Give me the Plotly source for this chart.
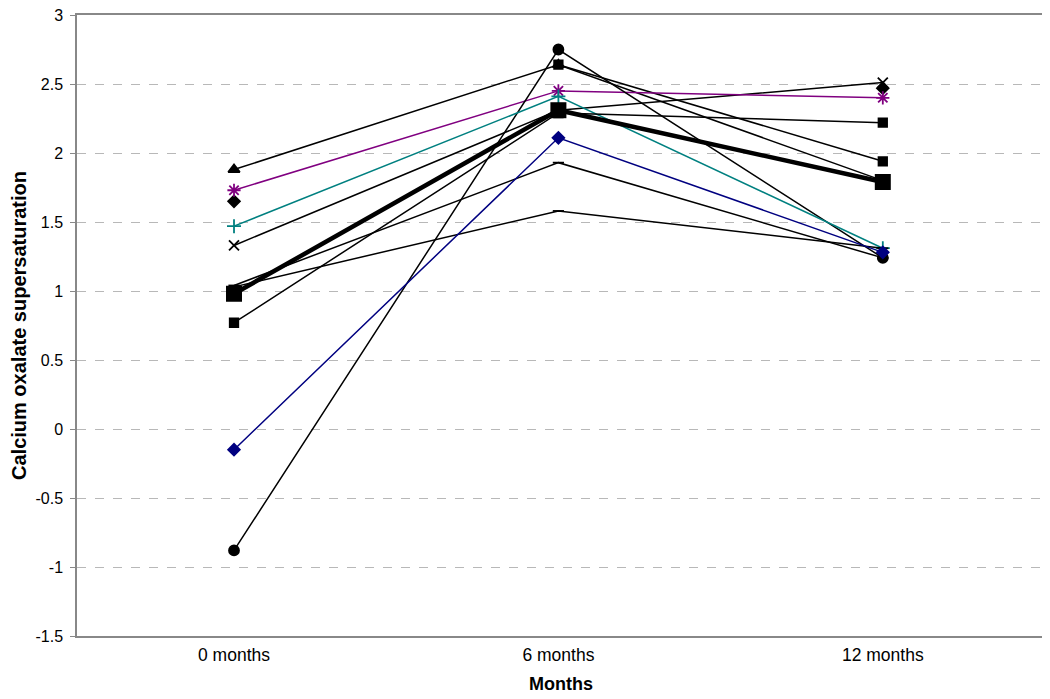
import plotly.graph_objects as go

categories = ["0 months", "6 months", "12 months"]
x_pos = [0, 1, 2]

diamond_black = [1.65, None, 2.47]
square_a = [None, 2.64, 1.94]
triangle = [1.88, 2.64, 1.80]
cross_x = [1.33, 2.31, 2.51]
asterisk_purple = [1.73, 2.45, 2.40]
circle = [-0.88, 2.75, 1.24]
plus_teal = [1.47, 2.41, 1.31]
dash_1 = [1.04, 1.93, 1.24]
dash_2 = [1.03, 1.58, 1.31]
square_b = [0.77, 2.29, 2.22]
diamond_blue = [-0.15, 2.11, 1.28]
mean_values = [0.98, 2.31, 1.79]

y_ticks = [-1.5, -1, -0.5, 0, 0.5, 1, 1.5, 2, 2.5, 3]
y_tick_labels = ["-1.5", "-1", "-0.5", "0", "0.5", "1", "1.5", "2", "2.5", "3"]

series = [
    (diamond_black, "black", "diamond", 9, 1.5),
    (square_a, "black", "square", 8.5, 1.5),
    (triangle, "black", "triangle-up", 10, 1.5),
    (cross_x, "black", "x-thin-open", 10, 1.5),
    (asterisk_purple, "#800080", "asterisk-open", 11, 1.5),
    (circle, "black", "circle", 10, 1.5),
    (plus_teal, "#008080", "cross-thin-open", 10, 1.5),
    (dash_1, "black", "line-ew-open", 8, 1.5),
    (dash_2, "black", "line-ew-open", 8, 1.5),
    (square_b, "black", "square", 8.5, 1.5),
    (diamond_blue, "#000080", "diamond", 9, 1.5),
]

fig = go.Figure()
for vals, col, sym, size, lw in series:
    fig.add_trace(go.Scatter(
        x=x_pos, y=vals, mode="lines+markers",
        line=dict(color=col, width=lw),
        marker=dict(symbol=sym, size=size, color=col,
                    line=dict(color=col, width=1.8)),
        showlegend=False, hoverinfo="skip",
    ))

fig.add_trace(go.Scatter(
    x=x_pos, y=mean_values, mode="lines+markers",
    line=dict(color="black", width=4.5),
    marker=dict(symbol="square", size=16, color="black"),
    showlegend=False, hoverinfo="skip",
))

fig.update_layout(
    width=1042, height=691,
    margin=dict(l=69, r=5, t=7, b=63),
    paper_bgcolor="white", plot_bgcolor="white",
    font=dict(family="Liberation Sans, Arial, sans-serif", color="black", size=13),
    xaxis=dict(
        range=[-0.484, 2.5], tickvals=x_pos, ticktext=categories,
        showgrid=False, zeroline=False, showline=True, linecolor="#888888",
        linewidth=1.5, mirror=True, ticks="", tickfont=dict(size=17.5),
        ticklabelstandoff=2, ticklabeloverflow="allow",
        automargin=False,
        title=dict(text="<b>Months</b>", font=dict(size=18), standoff=14),
    ),
    yaxis=dict(
        range=[-1.5, 3], tickvals=y_ticks, ticktext=y_tick_labels,
        showgrid=True, gridcolor="#b8b8b8", griddash="dash", gridwidth=1,
        zeroline=False, showline=True, linecolor="#888888", linewidth=1.5,
        mirror=True, ticks="outside", ticklen=5, tickcolor="#888888",
        tickfont=dict(size=16), automargin=False,
        ticklabelstandoff=4, ticklabeloverflow="allow",
        title=dict(text="<b>Calcium oxalate supersaturation</b>", font=dict(size=20), standoff=5),
    ),
)

fig.write_html("out.html")
